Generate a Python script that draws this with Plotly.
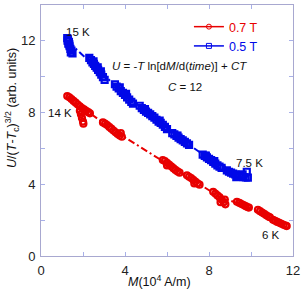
import plotly.graph_objects as go

RED = "#e80000"
BLUE = "#0008e8"

# 0.5 T data (M in 1e4 A/m, U/(T-Tc)^{3/2})
b_x = [1.25, 1.27, 1.30, 1.33, 1.36, 1.40, 1.45, 1.50, 1.28, 1.35, 1.42,
       2.30, 2.38, 2.45, 2.52, 2.58, 2.65, 2.72, 2.80, 2.87, 2.95, 3.03, 2.50, 2.70, 2.85,
       3.52, 3.60, 3.70, 3.80, 3.90, 4.00, 4.10, 4.20, 4.30, 4.38, 3.75, 4.05,
       4.70, 4.80, 4.90, 5.00, 5.10, 5.20, 5.30, 4.95,
       5.40, 5.50, 5.60, 5.70, 5.80, 5.90, 6.00, 5.65,
       6.25, 6.35, 6.45, 6.55, 6.65, 6.75, 6.85, 6.95, 7.05, 6.50,
       7.70, 7.80, 7.90, 8.00, 8.10, 8.20, 8.30, 8.40, 8.50, 8.60, 7.85, 8.25,
       8.85, 8.95, 9.05, 9.15, 9.25, 9.35, 9.45, 9.55, 9.65, 9.75, 9.85, 9.80, 9.30, 9.60]
b_y = [12.15, 12.00, 11.85, 11.95, 11.70, 11.55, 11.45, 11.30, 12.05, 11.80, 11.35,
       11.05, 10.92, 10.80, 10.72, 10.60, 10.50, 10.38, 10.25, 10.12, 9.98, 9.82, 10.85, 10.52, 10.30,
       9.58, 9.45, 9.35, 9.20, 9.10, 8.98, 8.85, 8.72, 8.60, 8.50, 9.40, 9.05,
       8.38, 8.25, 8.15, 8.05, 7.98, 7.90, 7.80, 8.20,
       7.72, 7.60, 7.50, 7.42, 7.32, 7.20, 7.08, 7.55,
       6.85, 6.78, 6.70, 6.60, 6.52, 6.45, 6.36, 6.28, 6.20, 6.72,
       5.65, 5.58, 5.50, 5.42, 5.35, 5.25, 5.15, 5.05, 4.98, 4.92, 5.60, 5.30,
       4.78, 4.70, 4.65, 4.60, 4.55, 4.50, 4.45, 4.42, 4.40, 4.38, 4.37, 4.70, 4.40, 4.55]

# 0.7 T data
r_x = [1.25, 1.35, 1.45, 1.55, 1.65, 1.75, 1.85, 1.95, 2.05, 2.15, 2.25, 2.33,
       1.85, 1.90, 1.95, 2.00, 2.02,
       2.95, 3.05, 3.15, 3.25, 3.35, 3.45, 3.55, 3.65, 3.75, 3.85, 3.80,
       5.80, 5.90, 6.00, 6.10, 6.20, 6.30, 6.40, 6.50, 6.60, 6.00,
       6.95, 7.05, 7.15, 7.25, 7.35, 7.45, 7.55, 7.30,
       8.20, 8.30, 8.40, 8.50, 8.60, 8.70, 8.78, 8.55, 8.75,
       9.33, 9.45, 9.55, 9.65, 9.75, 9.85, 9.90,
       10.33, 10.43, 10.53, 10.63, 10.73, 10.83, 10.90,
       11.05, 11.15, 11.25, 11.35, 11.45, 11.55, 11.65, 11.70]
r_y = [8.92, 8.85, 8.75, 8.65, 8.55, 8.45, 8.35, 8.25, 8.18, 8.10, 8.02, 7.96,
       8.10, 7.90, 7.70, 7.50, 7.38,
       7.45, 7.38, 7.30, 7.20, 7.10, 7.00, 6.90, 6.80, 6.72, 6.65, 6.85,
       5.35, 5.30, 5.20, 5.10, 5.00, 4.90, 4.80, 4.72, 4.65, 5.05,
       4.50, 4.42, 4.35, 4.25, 4.15, 4.05, 3.98, 4.05,
       3.58, 3.48, 3.38, 3.28, 3.15, 3.00, 2.88, 3.00, 3.15,
       3.02, 2.96, 2.90, 2.84, 2.78, 2.72, 2.70,
       2.58, 2.50, 2.42, 2.35, 2.27, 2.20, 2.16,
       2.02, 1.96, 1.90, 1.85, 1.80, 1.74, 1.70, 1.67]

# fitted curves
b_fit_x = [1.30, 2.68, 3.95, 5.35, 6.67, 8.15, 9.90]
b_fit_y = [11.95, 10.43, 9.05, 7.75, 6.52, 5.30, 4.40]
r_fit_x = [1.25, 3.40, 6.20, 8.50, 9.60, 11.70]
r_fit_y = [8.90, 7.05, 5.00, 3.30, 2.85, 1.68]

x_ticks = [0, 4, 8, 12]
y_ticks = [0, 4, 8, 12]

FONT = "Arial, Liberation Sans, sans-serif"
DASH = "7px,3px,2px,3px"

fig = go.Figure()
fig.add_trace(go.Scatter(x=r_fit_x, y=r_fit_y, mode="lines",
                         line=dict(color=RED, width=2, dash=DASH), showlegend=False))
fig.add_trace(go.Scatter(x=b_fit_x, y=b_fit_y, mode="lines",
                         line=dict(color=BLUE, width=2, dash=DASH), showlegend=False))
fig.add_trace(go.Scatter(x=r_x, y=r_y, mode="markers",
                         marker=dict(symbol="circle-open", size=6, color=RED, line=dict(width=2.2)),
                         showlegend=False))
fig.add_trace(go.Scatter(x=b_x, y=b_y, mode="markers",
                         marker=dict(symbol="square-open", size=6, color=BLUE, line=dict(width=2.2)),
                         showlegend=False))
# legend entries
fig.add_trace(go.Scatter(x=[None], y=[None], mode="lines+markers",
                         name="<span style='color:%s'>0.7 T</span>" % RED,
                         line=dict(color=RED, width=1.5),
                         marker=dict(symbol="circle-open", size=5, color=RED)))
fig.add_trace(go.Scatter(x=[None], y=[None], mode="lines+markers",
                         name="<span style='color:%s'>0.5 T</span>" % BLUE,
                         line=dict(color=BLUE, width=1.5),
                         marker=dict(symbol="square-open", size=5, color=BLUE)))

axis_common = dict(showgrid=False, zeroline=False, showline=True, linecolor="#a8a8d0",
                   linewidth=1, mirror="ticks", ticks="inside", ticklen=4,
                   tickcolor="#a8b0e8", tickfont=dict(family=FONT, size=13, color="#222222"),
                   minor=dict(ticks="inside", ticklen=4, tickcolor="#a8b0e8", dtick=2))

fig.update_xaxes(range=[0, 12], tickvals=x_ticks, ticktext=[str(v) for v in x_ticks],
                 ticklabelstandoff=2, **axis_common)
fig.update_yaxes(range=[0, 14], tickvals=y_ticks, ticktext=[str(v) for v in y_ticks],
                 ticklabelstandoff=2, **axis_common)

ann_font = dict(family=FONT, size=11.5, color="#111111")
annotations = [
    dict(text="15 K", x=1.1, y=12.5, xanchor="left", yanchor="middle"),
    dict(text="14 K", x=0.25, y=8.0, xanchor="left", yanchor="middle"),
    dict(text="7.5 K", x=9.2, y=5.2, xanchor="left", yanchor="middle"),
    dict(text="6 K", x=10.45, y=1.15, xanchor="left", yanchor="middle"),
    dict(text="<i>U</i> = -<i>T</i> ln[d<i>M</i>/d(<i>time</i>)] + <i>CT</i>",
         x=6.6, y=10.6, xanchor="center", yanchor="middle"),
    dict(text="<i>C</i> = 12", x=6.85, y=9.4, xanchor="center", yanchor="middle"),
]
for a in annotations:
    a.update(xref="x", yref="y", showarrow=False, font=ann_font)

annotations.append(dict(text="<i>U</i>/(<i>T</i>-<i>T</i><sub>c</sub>)<sup>3/2</sup> (arb. units)",
                        xref="paper", yref="paper", x=-0.115, y=0.59, textangle=-90,
                        xanchor="center", yanchor="middle", showarrow=False,
                        font=dict(family=FONT, size=12.5, color="#111111")))
annotations.append(dict(text="<i>M</i>(10<sup>4</sup> A/m)",
                        xref="paper", yref="paper", x=0.47, y=-0.1,
                        xanchor="center", yanchor="middle", showarrow=False,
                        font=dict(family=FONT, size=12.5, color="#111111")))

fig.update_layout(
    width=306, height=291,
    margin=dict(l=41, r=13, t=5, b=35),
    paper_bgcolor="white", plot_bgcolor="white",
    annotations=annotations,
    legend=dict(x=0.587, y=0.972, xanchor="left", yanchor="top",
                bgcolor="rgba(0,0,0,0)", font=dict(family=FONT, size=12.5),
                tracegroupgap=0, itemwidth=30),
    font=dict(family=FONT),
)

fig.write_html("out.html", config={"displayModeBar": False},
               post_script="document.body.style.margin='0';document.body.style.overflow='hidden';")
